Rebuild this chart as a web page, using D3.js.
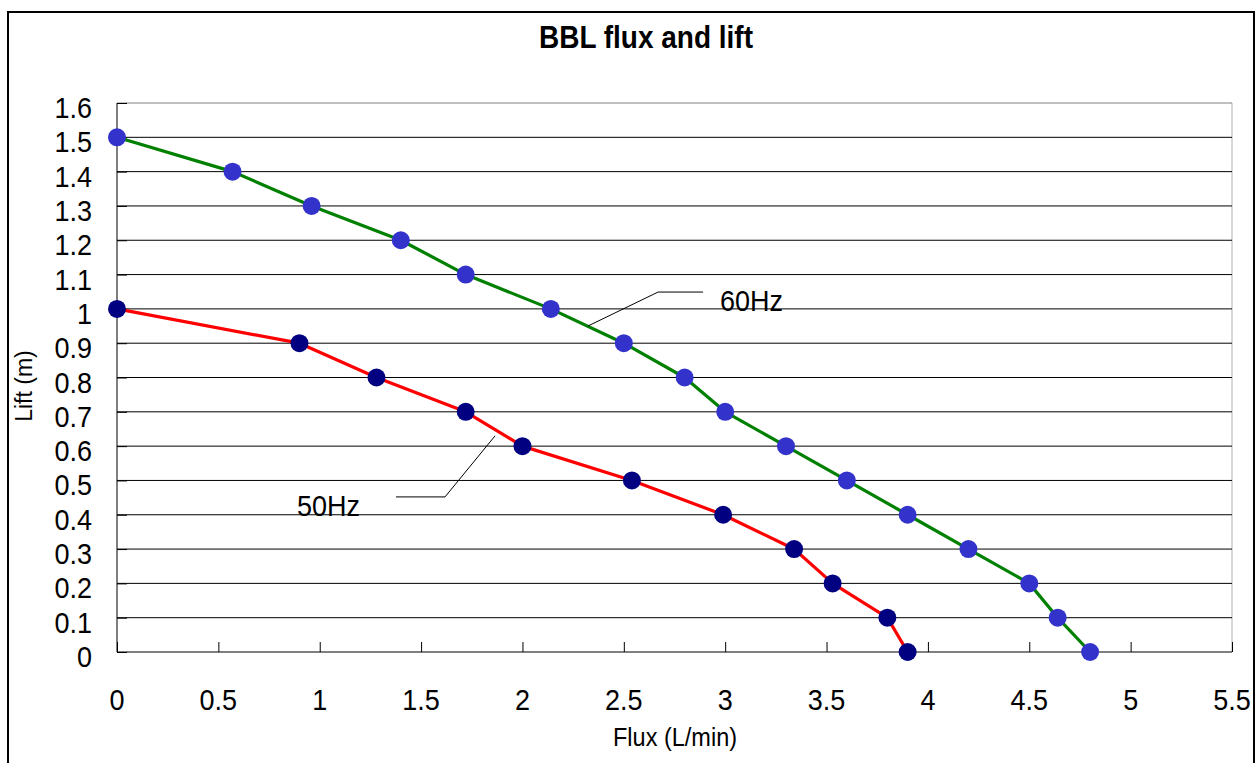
<!DOCTYPE html>
<html>
<head>
<meta charset="utf-8">
<script src="https://cdn.jsdelivr.net/npm/d3@7"></script>
<style>
  body { margin: 0; background: #fff; }
  svg { display: block; font-family: "Liberation Sans", Arial, sans-serif; }
</style>
</head>
<body>
<svg id="chart" width="1260" height="763"></svg>
<script>
// 数据：流量 (L/min) 与扬程 (m)
const flux60 = [0, 0.57, 0.96, 1.40, 1.72, 2.14, 2.50, 2.80, 3.00, 3.30, 3.60, 3.90, 4.20, 4.50, 4.64, 4.80];
const lift60 = [1.5, 1.4, 1.3, 1.2, 1.1, 1.0, 0.9, 0.8, 0.7, 0.6, 0.5, 0.4, 0.3, 0.2, 0.1, 0];
const flux50 = [0, 0.90, 1.28, 1.72, 2.00, 2.54, 2.99, 3.34, 3.53, 3.80, 3.90];
const lift50 = [1.0, 0.9, 0.8, 0.7, 0.6, 0.5, 0.4, 0.3, 0.2, 0.1, 0];
const xTicks = [0, 0.5, 1, 1.5, 2, 2.5, 3, 3.5, 4, 4.5, 5, 5.5];
const yTicks = [0, 0.1, 0.2, 0.3, 0.4, 0.5, 0.6, 0.7, 0.8, 0.9, 1, 1.1, 1.2, 1.3, 1.4, 1.5, 1.6];

const svg = d3.select('#chart');

// 绘图区边界
const plot = { left: 117, right: 1232, top: 103, bottom: 652 };

const x = d3.scaleLinear().domain([0, 5.5]).range([plot.left, plot.right]);
const y = d3.scaleLinear().domain([0, 1.6]).range([plot.bottom, plot.top]);

// 字体略微纵向拉伸
const stretch = 1.09;

// 外框
svg.append('rect')
  .attr('x', 8).attr('y', 12)
  .attr('width', 1246).attr('height', 800)
  .attr('fill', 'none')
  .attr('stroke', '#000')
  .attr('stroke-width', 2);

// 标题
svg.append('text')
  .attr('transform', `translate(646,48) scale(1,${stretch})`)
  .attr('text-anchor', 'middle')
  .attr('font-size', 28)
  .attr('font-weight', 'bold')
  .text('BBL flux and lift');

// 右边框（浅灰）
svg.append('line')
  .attr('x1', plot.right).attr('x2', plot.right)
  .attr('y1', plot.top).attr('y2', plot.bottom)
  .attr('stroke', '#b0b0b0');

// 水平网格线
svg.append('g').attr('class', 'grid')
  .selectAll('line')
  .data(yTicks.filter(d => d > 0))
  .join('line')
  .attr('x1', plot.left).attr('x2', plot.right)
  .attr('y1', d => y(d)).attr('y2', d => y(d))
  .attr('stroke', d => d === 1.6 ? '#808080' : '#000')
  .attr('stroke-width', 1);

// y 轴（刻度朝内）
const yAxis = svg.append('g')
  .attr('transform', `translate(${plot.left},0)`)
  .call(d3.axisRight(y).tickValues(yTicks).tickSize(10).tickFormat(''));
yAxis.select('.domain').remove();
yAxis.selectAll('line').attr('stroke', '#000');
svg.append('line')
  .attr('x1', plot.left).attr('x2', plot.left)
  .attr('y1', plot.top).attr('y2', plot.bottom)
  .attr('stroke', '#000');

svg.append('g')
  .selectAll('text')
  .data(yTicks)
  .join('text')
  .attr('transform', d => `translate(92,${y(d) + 15}) scale(1,${stretch})`)
  .attr('text-anchor', 'end')
  .attr('font-size', 27)
  .text(d => d3.format('~g')(d));

// x 轴（刻度朝上）
const xAxis = svg.append('g')
  .attr('transform', `translate(0,${plot.bottom})`)
  .call(d3.axisTop(x).tickValues(xTicks).tickSize(10).tickFormat(''));
xAxis.select('.domain').remove();
xAxis.selectAll('line').attr('stroke', '#000');
svg.append('line')
  .attr('x1', plot.left).attr('x2', plot.right)
  .attr('y1', plot.bottom).attr('y2', plot.bottom)
  .attr('stroke', '#000');

svg.append('g')
  .selectAll('text')
  .data(xTicks)
  .join('text')
  .attr('transform', d => `translate(${x(d)},710) scale(1,${stretch})`)
  .attr('text-anchor', 'middle')
  .attr('font-size', 27)
  .text(d => d3.format('~g')(d));

// 轴标题
svg.append('text')
  .attr('transform', `translate(675,746) scale(1,${stretch})`)
  .attr('text-anchor', 'middle')
  .attr('font-size', 23.5)
  .text('Flux (L/min)');

svg.append('text')
  .attr('transform', 'translate(32,386) rotate(-90)')
  .attr('text-anchor', 'middle')
  .attr('font-size', 23)
  .text('Lift (m)');

// 曲线与数据点
const series = [
  { name: '60Hz', flux: flux60, lift: lift60, line: '#008000', dot: '#3333cc' },
  { name: '50Hz', flux: flux50, lift: lift50, line: '#ff0000', dot: '#000080' }
];

const lineGen = d3.line()
  .x(d => x(d[0]))
  .y(d => y(d[1]));

series.forEach(s => {
  const pts = s.flux.map((f, i) => [f, s.lift[i]]);
  svg.append('path')
    .datum(pts)
    .attr('d', lineGen)
    .attr('fill', 'none')
    .attr('stroke', s.line)
    .attr('stroke-width', 3.2)
    .attr('stroke-linejoin', 'round');
  svg.append('g')
    .selectAll('circle')
    .data(pts)
    .join('circle')
    .attr('cx', d => x(d[0]))
    .attr('cy', d => y(d[1]))
    .attr('r', 9)
    .attr('fill', s.dot);
});

// 标注引线（数据坐标）
const labels = [
  { text: '60Hz', leader: [[2.323, 0.950], [2.669, 1.049], [2.891, 1.049]], at: [2.974, 0.994] },
  { text: '50Hz', leader: [[1.865, 0.630], [1.618, 0.452], [1.376, 0.452]], at: [0.888, 0.396] }
];

labels.forEach(l => {
  svg.append('path')
    .attr('d', d3.line().x(d => x(d[0])).y(d => y(d[1]))(l.leader))
    .attr('fill', 'none')
    .attr('stroke', '#000')
    .attr('stroke-width', 1);
  svg.append('text')
    .attr('transform', `translate(${x(l.at[0])},${y(l.at[1])}) scale(1,${stretch})`)
    .attr('font-size', 27)
    .text(l.text);
});
</script>
</body>
</html>
